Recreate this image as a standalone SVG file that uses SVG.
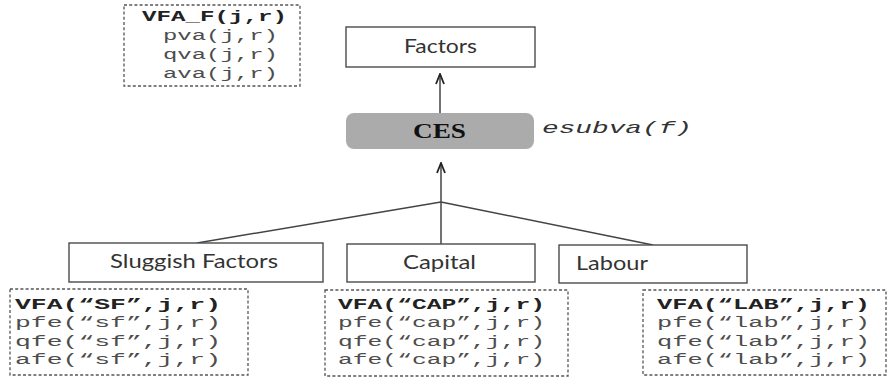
<svg xmlns="http://www.w3.org/2000/svg" width="888" height="383" viewBox="0 0 888 383">
  <style>
    .box { fill: #ffffff; stroke: #4a4a4a; stroke-width: 1.4; }
    .ces { fill: #ababab; stroke: none; }
    .note { fill: #ffffff; stroke: #555555; stroke-width: 1.3; stroke-dasharray: 3 2.2; }
    .lbl { font-family: Lato, "Open Sans", sans-serif; font-size: 19px; fill: #333333; }
    .cesl { font-family: "Liberation Serif", serif; font-weight: bold; font-size: 21px; fill: #111111; }
    .code { font-family: "Liberation Mono", monospace; font-size: 15.5px; fill: #4d4d4d; }
    .codeb { font-family: "Liberation Mono", monospace; font-size: 15.5px; font-weight: bold; fill: #222222; }
    .eq { font-family: "Liberation Mono", monospace; font-style: italic; font-size: 17px; fill: #333333; }
    .edge { fill: none; stroke: #444444; stroke-width: 1.5; }
  </style>
  <defs>
    <!-- open chevron arrowhead, tip at the end of the line -->
    <marker id="chev" viewBox="0 0 12 10" refX="11" refY="5" markerWidth="12" markerHeight="10" markerUnits="userSpaceOnUse" orient="auto">
      <path d="M1,1 L11,5 L1,9" fill="none" stroke="#222222" stroke-width="1.8"/>
    </marker>
  </defs>

  <rect width="888" height="383" fill="#ffffff"/>

  <!-- connectors -->
  <g id="connectors">
    <line class="edge" x1="440" y1="113" x2="440" y2="74" marker-end="url(#chev)"/>
    <line class="edge" x1="441" y1="202" x2="441" y2="163" marker-end="url(#chev)"/>
    <line class="edge" x1="441" y1="202" x2="441" y2="244"/>
    <line class="edge" x1="441" y1="202" x2="197" y2="243"/>
    <line class="edge" x1="441" y1="202" x2="653" y2="245"/>
  </g>

  <!-- factor-level variables -->
  <g id="vfa-f">
    <rect class="note" x="124" y="5" width="176" height="81"/>
    <text class="codeb" x="142" y="21" textLength="145" lengthAdjust="spacingAndGlyphs">VFA_F(j,r)</text>
    <text class="code" x="163" y="40" textLength="115" lengthAdjust="spacingAndGlyphs">pva(j,r)</text>
    <text class="code" x="163" y="59" textLength="115" lengthAdjust="spacingAndGlyphs">qva(j,r)</text>
    <text class="code" x="163" y="78" textLength="115" lengthAdjust="spacingAndGlyphs">ava(j,r)</text>
  </g>

  <g id="factors">
    <rect class="box" x="346" y="27" width="189" height="40"/>
    <text class="lbl" x="404" y="53" textLength="73" lengthAdjust="spacingAndGlyphs">Factors</text>
  </g>

  <g id="ces">
    <rect class="ces" x="346" y="113" width="188" height="36" rx="8" ry="8"/>
    <text class="cesl" x="413" y="138" textLength="53" lengthAdjust="spacingAndGlyphs">CES</text>
  </g>
  <text class="eq" x="542" y="133" textLength="150" lengthAdjust="spacingAndGlyphs">esubva(f)</text>

  <g id="sluggish">
    <rect class="box" x="69" y="243" width="254" height="39"/>
    <text class="lbl" x="110" y="268" textLength="168" lengthAdjust="spacingAndGlyphs">Sluggish Factors</text>
  </g>

  <g id="capital">
    <rect class="box" x="347" y="244" width="188" height="38"/>
    <text class="lbl" x="403" y="269" textLength="73" lengthAdjust="spacingAndGlyphs">Capital</text>
  </g>

  <g id="labour">
    <rect class="box" x="559" y="245" width="188" height="38"/>
    <text class="lbl" x="576" y="270" textLength="72" lengthAdjust="spacingAndGlyphs">Labour</text>
  </g>

  <g id="vfa-sf">
    <rect class="note" x="10" y="289" width="238" height="86"/>
    <text class="codeb" x="15" y="309" textLength="206" lengthAdjust="spacingAndGlyphs">VFA(“SF”,j,r)</text>
    <text class="code" x="15" y="327" textLength="206" lengthAdjust="spacingAndGlyphs">pfe(“sf”,j,r)</text>
    <text class="code" x="15" y="346" textLength="206" lengthAdjust="spacingAndGlyphs">qfe(“sf”,j,r)</text>
    <text class="code" x="15" y="364" textLength="206" lengthAdjust="spacingAndGlyphs">afe(“sf”,j,r)</text>
  </g>

  <g id="vfa-cap">
    <rect class="note" x="325" y="290" width="243" height="86"/>
    <text class="codeb" x="338" y="309" textLength="207" lengthAdjust="spacingAndGlyphs">VFA(“CAP”,j,r)</text>
    <text class="code" x="338" y="327" textLength="207" lengthAdjust="spacingAndGlyphs">pfe(“cap”,j,r)</text>
    <text class="code" x="338" y="346" textLength="207" lengthAdjust="spacingAndGlyphs">qfe(“cap”,j,r)</text>
    <text class="code" x="338" y="364" textLength="207" lengthAdjust="spacingAndGlyphs">afe(“cap”,j,r)</text>
  </g>

  <g id="vfa-lab">
    <rect class="note" x="643" y="290" width="243" height="85"/>
    <text class="codeb" x="657" y="309" textLength="213" lengthAdjust="spacingAndGlyphs">VFA(“LAB”,j,r)</text>
    <text class="code" x="657" y="327" textLength="213" lengthAdjust="spacingAndGlyphs">pfe(“lab”,j,r)</text>
    <text class="code" x="657" y="346" textLength="213" lengthAdjust="spacingAndGlyphs">qfe(“lab”,j,r)</text>
    <text class="code" x="657" y="364" textLength="213" lengthAdjust="spacingAndGlyphs">afe(“lab”,j,r)</text>
  </g>
</svg>
